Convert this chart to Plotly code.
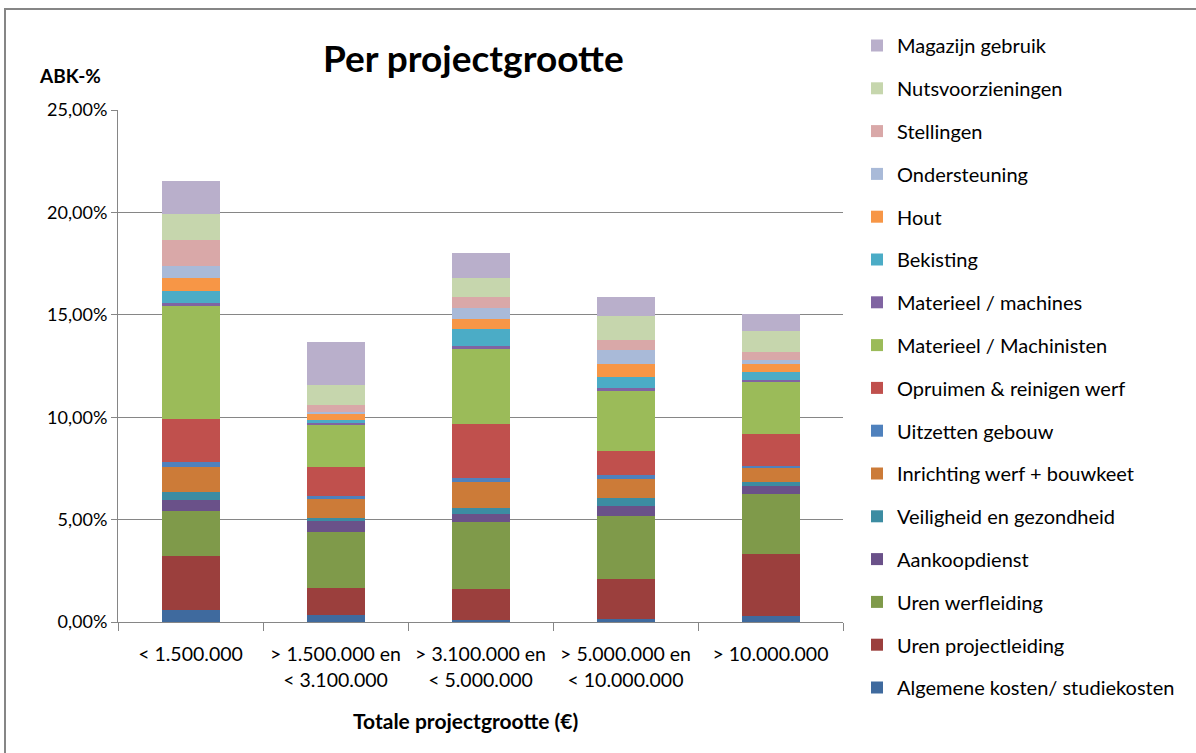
import plotly.graph_objects as go

categories = [
    "&lt; 1.500.000",
    "&gt; 1.500.000 en<br>&lt; 3.100.000",
    "&gt; 3.100.000 en<br>&lt; 5.000.000",
    "&gt; 5.000.000 en<br>&lt; 10.000.000",
    "&gt; 10.000.000",
]

# values in percent, bottom of stack first
algemene_kosten = [0.57, 0.33, 0.12, 0.17, 0.29]
uren_projectleiding = [2.65, 1.33, 1.48, 1.93, 3.05]
uren_werfleiding = [2.20, 2.75, 3.27, 3.10, 2.93]
aankoopdienst = [0.52, 0.51, 0.42, 0.45, 0.39]
veiligheid = [0.41, 0.16, 0.30, 0.39, 0.18]
inrichting = [1.22, 0.91, 1.27, 0.96, 0.71]
uitzetten = [0.23, 0.15, 0.16, 0.18, 0.07]
opruimen = [2.10, 1.45, 2.65, 1.19, 1.55]
machinisten = [5.53, 2.06, 3.66, 2.93, 2.53]
machines = [0.17, 0.08, 0.17, 0.13, 0.10]
bekisting = [0.56, 0.15, 0.81, 0.55, 0.41]
hout = [0.64, 0.29, 0.50, 0.62, 0.41]
ondersteuning = [0.57, 0.08, 0.51, 0.68, 0.16]
stellingen = [1.30, 0.33, 0.55, 0.51, 0.40]
nutsvoorzieningen = [1.27, 1.01, 0.91, 1.14, 1.01]
magazijn = [1.59, 2.08, 1.24, 0.94, 0.83]

series_names = [
    "Algemene kosten/ studiekosten",
    "Uren projectleiding",
    "Uren werfleiding",
    "Aankoopdienst",
    "Veiligheid en gezondheid",
    "Inrichting werf + bouwkeet",
    "Uitzetten gebouw",
    "Opruimen & reinigen werf",
    "Materieel / Machinisten",
    "Materieel / machines",
    "Bekisting",
    "Hout",
    "Ondersteuning",
    "Stellingen",
    "Nutsvoorzieningen",
    "Magazijn gebruik",
]
series_values = [
    algemene_kosten, uren_projectleiding, uren_werfleiding, aankoopdienst,
    veiligheid, inrichting, uitzetten, opruimen, machinisten, machines,
    bekisting, hout, ondersteuning, stellingen, nutsvoorzieningen, magazijn,
]
series_colors = [
    "#3F6A9E", "#9B3F3D", "#7F9A4A", "#6A5189", "#3C8CA2", "#CC7B38",
    "#4F81BD", "#C0504D", "#9BBB59", "#8064A2", "#4BACC6", "#F79646",
    "#A9BAD8", "#D9A8A8", "#C6D6AD", "#B9AFCB",
]

FONT = "Lato"
GRID = "#868686"

fig = go.Figure()
n = len(series_names)
for i, (name, vals, col) in enumerate(zip(series_names, series_values, series_colors)):
    fig.add_trace(go.Bar(
        x=categories, y=vals, name=name, legendgroup=name, legendrank=n - i,
        marker=dict(color=col, line=dict(width=0)), width=0.4,
    ))

W, H = 1196, 753
L, R, T, B = 118, 843, 110, 622  # plot area, pixels

def px(x):
    return (x - L) / (R - L)

def py(y):
    return (B - y) / (B - T)

fig.update_layout(
    width=W, height=H,
    barmode="stack",
    separators=",.",
    paper_bgcolor="white", plot_bgcolor="white",
    margin=dict(l=L, r=W - R, t=T, b=H - B),
    font=dict(family=FONT, size=18, color="#000000"),
    showlegend=True,
    legend=dict(
        x=px(857), y=py(26), xanchor="left", yanchor="top",
        traceorder="grouped", tracegroupgap=13.8,
        font=dict(family=FONT, size=20, color="#000000"),
        itemwidth=30, maxheight=900,
    ),
    xaxis=dict(
        showline=True, linecolor=GRID, linewidth=1,
        ticks="outside", tickson="boundaries", ticklen=8, tickcolor=GRID,
        tickfont=dict(family=FONT, size=19.5),
        ticklabelstandoff=15,
        showgrid=False,
    ),
    yaxis=dict(
        range=[0, 25], dtick=5, tickformat=".2f", ticksuffix="%",
        showgrid=True, gridcolor=GRID, gridwidth=1,
        showline=True, linecolor=GRID, linewidth=1,
        ticks="outside", ticklen=6, tickcolor=GRID,
        tickfont=dict(family=FONT, size=18),
        zeroline=False,
    ),
    annotations=[
        dict(text="<b>Per projectgrootte</b>", x=px(473), y=py(57), xref="paper", yref="paper",
             showarrow=False, font=dict(family=FONT, size=37), xanchor="center", yanchor="middle"),
        dict(text="<b>ABK-%</b>", x=px(70), y=py(75), xref="paper", yref="paper",
             showarrow=False, font=dict(family=FONT, size=19), xanchor="center", yanchor="middle"),
        dict(text="<b>Totale projectgrootte (€)</b>", x=px(465), y=py(720), xref="paper", yref="paper",
             showarrow=False, font=dict(family=FONT, size=21), xanchor="center", yanchor="middle"),
    ],
    shapes=[
        dict(type="rect", xref="paper", yref="paper",
             x0=px(5), x1=px(1220), y0=py(780), y1=py(9),
             line=dict(color=GRID, width=2), fillcolor="rgba(0,0,0,0)", layer="below"),
    ],
)

fig.write_html("out.html", config={"displayModeBar": False},
               post_script="document.body.style.margin='0';")
